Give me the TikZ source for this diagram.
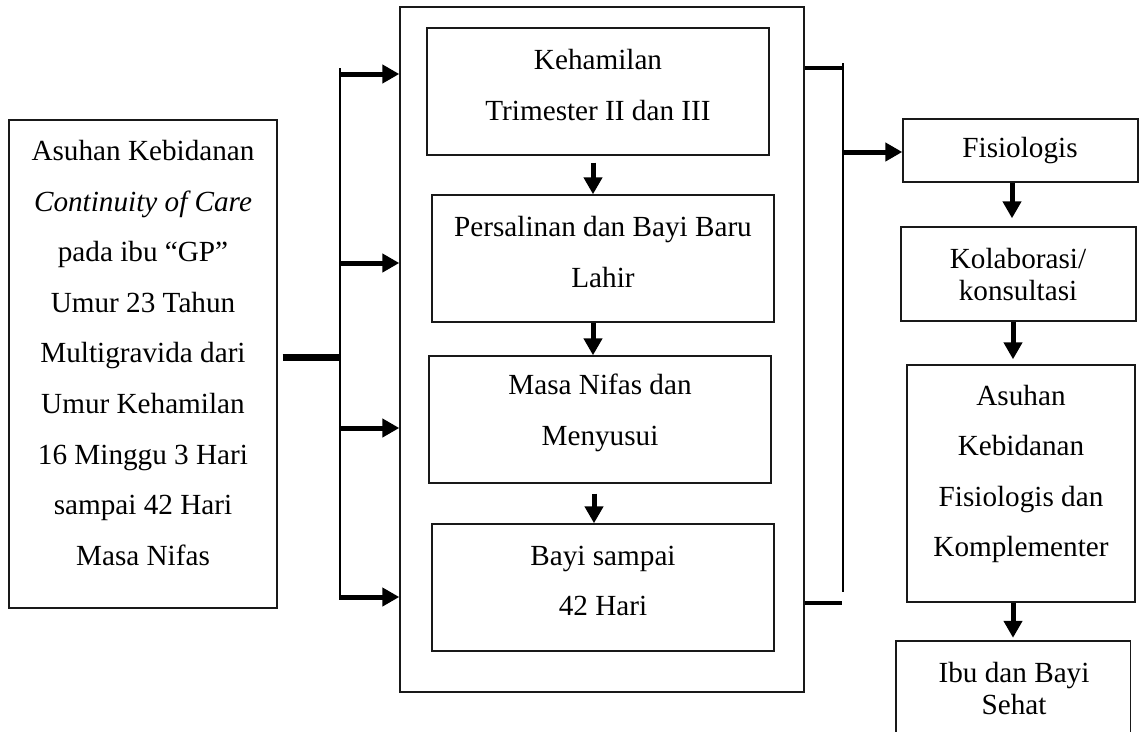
\documentclass[tikz,border=0pt]{standalone}
\usepackage{fontspec}
\setmainfont{Liberation Serif}
\usetikzlibrary{arrows.meta}
\tikzset{
  box/.style={draw=black!90, line width=1.4pt, rectangle, inner sep=0pt},
  dbl/.style={align=center, font=\fontsize{29.2pt}{50.6pt}\selectfont, inner sep=0pt},
  sgl/.style={align=center, font=\fontsize{29.2pt}{32pt}\selectfont, inner sep=0pt},
  bus/.style={line width=1.4pt},
  heavy/.style={line width=7pt},
  link/.style={line width=4.5pt},
  arr/.style={line width=5pt, -{Triangle[length=17pt,width=18pt]}}
}
\begin{document}
\begin{tikzpicture}[x=1pt,y=-1pt]
\useasboundingbox (0,0) rectangle (1140,731);
\clip (0,0) rectangle (1140,731);
\fill[white] (0,0) rectangle (1140,731);

% left box
\node[box, minimum width=268pt, minimum height=488pt] (L) at (143,364) {};
\node[dbl] (Lt) at (143,353) {Asuhan Kebidanan\\ \textit{Continuity of Care}\\ pada ibu “GP”\\ Umur 23 Tahun\\ Multigravida dari\\ Umur Kehamilan\\ 16 Minggu 3 Hari\\ sampai 42 Hari\\ Masa Nifas};

% middle outer box and stages
\node[box, minimum width=404pt, minimum height=685pt] (M) at (602,349.5) {};
\node[box, minimum width=342pt, minimum height=127pt] (b1) at (598,91.5) {};
\node[dbl] (b1t) at (598,85) {Kehamilan\\ Trimester II dan III};
\node[box, minimum width=342pt, minimum height=127pt] (b2) at (603,258.5) {};
\node[dbl] (b2t) at (603,252) {Persalinan dan Bayi Baru\\ Lahir};
\node[box, minimum width=342pt, minimum height=127pt] (b3) at (600,419.5) {};
\node[dbl] (b3t) at (600,413) {Masa Nifas dan\\ Menyusui};
\node[box, minimum width=342pt, minimum height=127pt] (b4) at (603,587.5) {};
\node[dbl] (b4t) at (603,581) {Bayi sampai\\ 42 Hari};

% right column
\node[box, minimum width=235pt, minimum height=63pt] (F) at (1020.5,150.5) {};
\node[sgl] (Ft) at (1020,151) {Fisiologis};
\node[box, minimum width=235pt, minimum height=94pt] (K) at (1018.5,274) {};
\node[sgl] (Kt) at (1018,275) {Kolaborasi/\\ konsultasi};
\node[box, minimum width=228pt, minimum height=237pt] (A) at (1021,483.5) {};
\node[dbl] (At) at (1021,474) {Asuhan\\ Kebidanan\\ Fisiologis dan\\ Komplementer};
\node[minimum width=234pt, minimum height=104pt, inner sep=0pt] (I) at (1013,693) {};
\draw[draw=black!90, line width=1.4pt] (I.south west) -- (I.north west) -- (I.north east) -- (I.south east);
\node[sgl] (It) at (1014,689) {Ibu dan Bayi\\ Sehat};

% left connectors
\coordinate (lj) at (341,357);
\coordinate (ltop) at (340,68);
\coordinate (lbot) at (340,597);
\draw[heavy] ([xshift=5pt]L.east |- lj) -- (lj);
\draw[bus] (ltop) -- (lbot);
\coordinate (la1) at (339,74);
\coordinate (la2) at (339,263);
\coordinate (la3) at (339,428);
\coordinate (la4) at (339,597);
\draw[arr] (la1) -- (la1 -| M.west);
\draw[arr] (la2) -- (la2 -| M.west);
\draw[arr] (la3) -- (la3 -| M.west);
\draw[arr] (la4) -- (la4 -| M.west);

% middle arrows
\draw[arr] ([xshift=-5pt,yshift=-7pt]b1.south) -- ([xshift=-10pt]b2.north);
\draw[arr] ([xshift=-10pt]b2.south) -- ([xshift=-7pt]b3.north);
\draw[arr] ([xshift=-6pt,yshift=-10pt]b3.south) -- ([xshift=-9pt]b4.north);

% right connectors
\coordinate (rtop) at (843,63);
\coordinate (rbot) at (843,592);
\draw[bus] (rtop) -- (rbot);
\coordinate (r1) at (842,68);
\coordinate (r2) at (842,603);
\draw[link] (r1 -| M.east) -- (r1);
\draw[link] (r2 -| M.east) -- (r2);
\coordinate (r3) at (842,152);
\draw[arr] (r3) -- (r3 -| F.west);

% right column arrows
\draw[arr] ([xshift=-8.5pt]F.south) -- ([xshift=-6.5pt,yshift=8pt]K.north);
\draw[arr] ([xshift=-5.5pt]K.south) -- ([xshift=-8pt,yshift=5pt]A.north);
\draw[arr] ([xshift=-8pt]A.south) -- ([yshift=3pt]I.north);
\end{tikzpicture}
\end{document}
